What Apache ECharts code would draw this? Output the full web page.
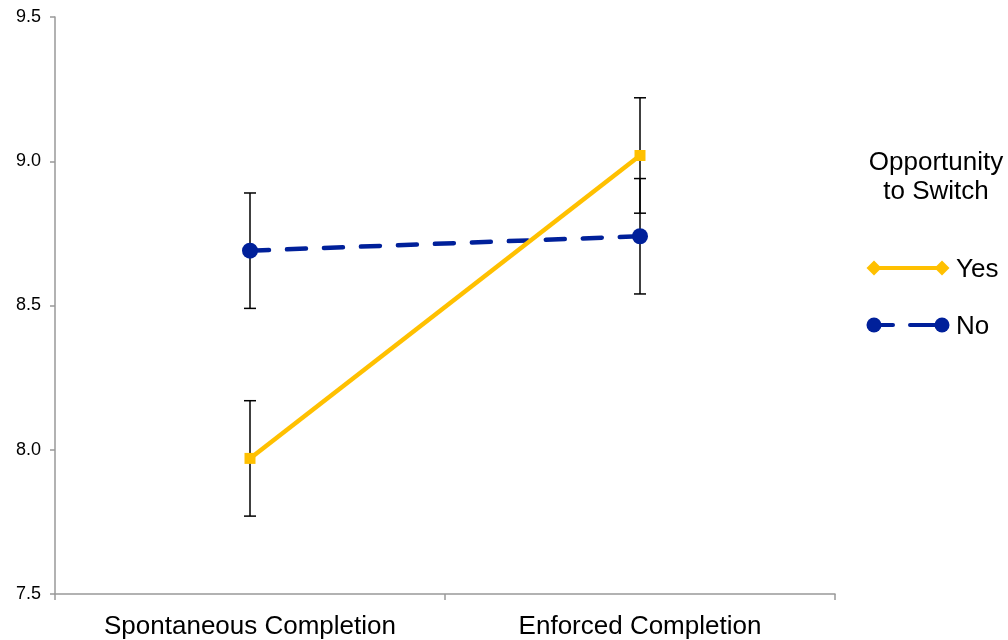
<!DOCTYPE html>
<html>
<head>
<meta charset="utf-8">
<script src="https://cdn.jsdelivr.net/npm/echarts@6/dist/echarts.min.js"></script>
<style>
  html, body { margin: 0; padding: 0; background: #fff; }
  #chart { width: 1008px; height: 640px; }
</style>
</head>
<body>
<div id="chart"></div>
<script>
// Conditions on the x axis
const categories = ['Spontaneous Completion', 'Enforced Completion'];
// Mean scores per group
const yesValues = [7.97, 9.02];
const noValues = [8.69, 8.74];
// Half-width of the error bars
const yesErrors = [0.20, 0.20];
const noErrors = [0.20, 0.20];
const yTicks = [7.5, 8.0, 8.5, 9.0, 9.5];

const FONT = 'Liberation Sans, Arial, sans-serif';
const YES_COLOR = '#FFC000';
const NO_COLOR = '#00209A';

// low/high pairs for the error bar series
function bars(values, errs) {
  return values.map((v, i) => [i, v - errs[i], v + errs[i]]);
}

function errorBarItem(params, api) {
  const x = api.value(0);
  const lo = api.coord([x, api.value(1)]);
  const hi = api.coord([x, api.value(2)]);
  const cap = 6;
  const style = { stroke: '#000', lineWidth: 1.5 };
  return {
    type: 'group',
    children: [
      { type: 'line', shape: { x1: hi[0], y1: hi[1], x2: lo[0], y2: lo[1] }, style },
      { type: 'line', shape: { x1: hi[0] - cap, y1: hi[1], x2: hi[0] + cap, y2: hi[1] }, style },
      { type: 'line', shape: { x1: lo[0] - cap, y1: lo[1], x2: lo[0] + cap, y2: lo[1] }, style }
    ]
  };
}

const chart = echarts.init(document.getElementById('chart'), null, { renderer: 'canvas' });

// Legend drawn as graphics: line with a marker at each end
const legendX1 = 874, legendX2 = 942;
function legendRow(y, color, dashed, symbol, label) {
  const els = [];
  els.push({
    type: 'line',
    shape: { x1: legendX1, y1: y, x2: legendX2, y2: y },
    style: { stroke: color, lineWidth: 4, lineDash: dashed ? [19, 17, 40, 0] : null, lineCap: 'round' },
    z: 10
  });
  [legendX1, legendX2].forEach(cx => {
    if (symbol === 'diamond') {
      els.push({
        type: 'polygon',
        shape: { points: [[cx, y - 7.5], [cx + 7.5, y], [cx, y + 7.5], [cx - 7.5, y]] },
        style: { fill: color },
        z: 11
      });
    } else {
      els.push({
        type: 'circle',
        shape: { cx: cx, cy: y, r: 7.5 },
        style: { fill: color },
        z: 11
      });
    }
  });
  els.push({
    type: 'text',
    style: { text: label, x: 956, y: y + 2, fill: '#000', font: '26px ' + FONT, textVerticalAlign: 'middle' },
    z: 11
  });
  return els;
}

const option = {
  backgroundColor: '#fff',
  animation: false,
  grid: { left: 55, right: 173, top: 17, bottom: 45, containLabel: false },
  xAxis: {
    type: 'category',
    data: categories,
    boundaryGap: true,
    axisLine: { lineStyle: { color: '#999', width: 1.5 } },
    axisTick: { show: true, length: 6, lineStyle: { color: '#999', width: 1.5 } },
    axisLabel: { color: '#000', fontSize: 26, fontFamily: FONT, margin: 20 },
    splitLine: { show: false }
  },
  yAxis: {
    type: 'value',
    min: yTicks[0],
    max: yTicks[yTicks.length - 1],
    interval: 0.5,
    axisLine: { show: true, lineStyle: { color: '#999', width: 1.5 } },
    axisTick: { show: true, length: 5, inside: false, lineStyle: { color: '#999', width: 1.5 } },
    axisLabel: {
      color: '#000', fontSize: 18, fontFamily: FONT, margin: 14,
      formatter: v => v.toFixed(1)
    },
    splitLine: { show: false }
  },
  series: [
    {
      name: 'No',
      type: 'line',
      data: noValues,
      symbol: 'circle',
      symbolSize: 16,
      itemStyle: { color: NO_COLOR },
      lineStyle: { color: NO_COLOR, width: 4.5, type: [19, 18], cap: 'round' },
      z: 3
    },
    {
      name: 'Yes',
      type: 'line',
      data: yesValues,
      symbol: 'rect',
      symbolSize: 11,
      itemStyle: { color: YES_COLOR },
      lineStyle: { color: YES_COLOR, width: 4.5 },
      z: 4
    },
    {
      name: 'No error',
      type: 'custom',
      renderItem: errorBarItem,
      data: bars(noValues, noErrors),
      encode: { x: 0, y: [1, 2] },
      z: 2
    },
    {
      name: 'Yes error',
      type: 'custom',
      renderItem: errorBarItem,
      data: bars(yesValues, yesErrors),
      encode: { x: 0, y: [1, 2] },
      z: 2
    }
  ],
  graphic: [
    {
      type: 'text',
      style: {
        text: 'Opportunity\nto Switch',
        x: 936, y: 177,
        fill: '#000',
        font: '26px ' + FONT,
        textAlign: 'center',
        textVerticalAlign: 'middle',
        lineHeight: 29
      }
    },
    ...legendRow(268, YES_COLOR, false, 'diamond', 'Yes'),
    ...legendRow(325, NO_COLOR, true, 'circle', 'No')
  ]
};

chart.setOption(option);
</script>
</body>
</html>
